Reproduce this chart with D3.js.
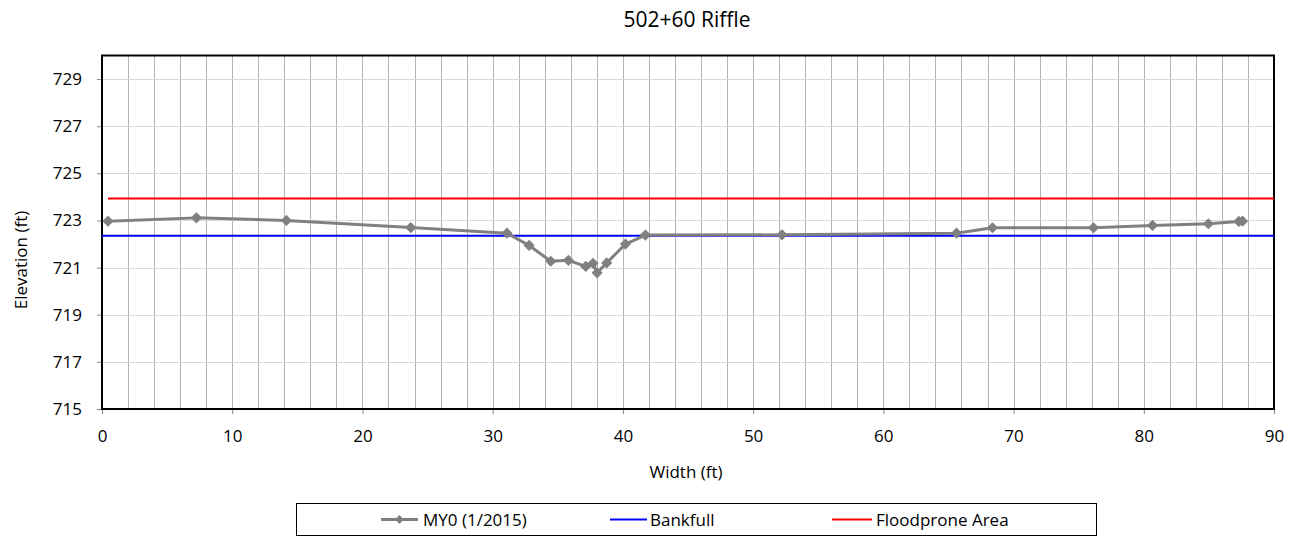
<!DOCTYPE html>
<html><head><meta charset="utf-8">
<script src="https://cdn.jsdelivr.net/npm/d3@7"></script>
<style>body{margin:0;background:#fff;} text{font-family:"Open Sans","Noto Sans",sans-serif;}</style>
</head><body>
<svg id="c" width="1289" height="539"></svg>
<script>
const title = "502+60 Riffle";
const xLabel = "Width (ft)";
const yLabel = "Elevation (ft)";
const stationX = [0.46,7.25,14.16,23.71,31.1,32.8,34.46,35.82,37.15,37.71,38.02,38.76,40.2,41.73,52.22,65.62,68.38,76.14,80.67,84.96,87.3,87.58];
const elevY = [722.97,723.11,723.0,722.7,722.46,721.94,721.27,721.31,721.05,721.18,720.78,721.2,722.0,722.38,722.39,722.46,722.69,722.69,722.79,722.86,722.96,722.97];
const bankfullX = [0, 90];
const bankfullY = [722.35, 722.35];
const floodX = [0.46, 90];
const floodY = [723.93, 723.93];
const xTicks = [0,10,20,30,40,50,60,70,80,90];
const yTicks = [715,717,719,721,723,725,727,729];
const seriesNames = ["MY0 (1/2015)","Bankfull","Floodprone Area"];

const svg = d3.select("#c");
const L=102, R=1274, T=55.5, B=409;
const x = d3.scaleLinear().domain([0,90]).range([L,R]);
const y = d3.scaleLinear().domain([715,730]).range([B,T]);

// gridlines
const vGrid = d3.range(2, 90, 2);
svg.append("g").selectAll("line").data(vGrid).join("line")
  .attr("x1",d=>Math.round(x(d))+0.5).attr("x2",d=>Math.round(x(d))+0.5)
  .attr("y1",T).attr("y2",B).attr("stroke","#b4b4b4").attr("stroke-width",1);
svg.append("g").selectAll("line").data(yTicks).join("line")
  .attr("x1",L).attr("x2",R)
  .attr("y1",d=>Math.round(y(d))+0.5).attr("y2",d=>Math.round(y(d))+0.5)
  .attr("stroke","#d9d9d9").attr("stroke-width",1);

// axes
const xAxis = svg.append("g").attr("transform",`translate(0,${B})`)
  .call(d3.axisBottom(x).tickValues(xTicks).tickSize(5).tickPadding(16).tickFormat(d3.format("d")));
xAxis.select(".domain").remove();
xAxis.selectAll("line").attr("stroke","#888");
xAxis.selectAll("text").attr("font-size",17).attr("fill","#000");
const yAxis = svg.append("g").attr("transform",`translate(${L},0)`)
  .call(d3.axisLeft(y).tickValues(yTicks).tickSize(5).tickPadding(15).tickFormat(d3.format("d")));
yAxis.select(".domain").remove();
yAxis.selectAll("line").attr("stroke","#888");
yAxis.selectAll("text").attr("font-size",17).attr("fill","#000");

// frame
svg.append("rect").attr("x",L).attr("y",T).attr("width",R-L).attr("height",B-T)
  .attr("fill","none").attr("stroke","#000").attr("stroke-width",2);

const line = d3.line().x(d=>x(d[0])).y(d=>y(d[1]));
svg.append("path").datum(d3.zip(floodX,floodY)).attr("d",line)
  .attr("stroke","#ff0000").attr("stroke-width",2).attr("fill","none");
svg.append("path").datum(d3.zip(bankfullX,bankfullY)).attr("d",line)
  .attr("stroke","#0000ff").attr("stroke-width",2).attr("fill","none");
const pts = d3.zip(stationX, elevY);
svg.append("path").datum(pts).attr("d",line)
  .attr("stroke","#808080").attr("stroke-width",3).attr("fill","none").attr("stroke-linejoin","round");
const diamond = d3.symbol().type(d3.symbolDiamond2).size(80);
svg.append("g").selectAll("path").data(pts).join("path")
  .attr("d",diamond).attr("transform",d=>`translate(${x(d[0])},${y(d[1])})`).attr("fill","#808080");

// titles
svg.append("text").attr("x",687).attr("y",27).attr("text-anchor","middle").attr("font-size",21).text(title);
svg.append("text").attr("x",686).attr("y",478).attr("text-anchor","middle").attr("font-size",17).text(xLabel);
svg.append("text").attr("transform","translate(27,260) rotate(-90)").attr("text-anchor","middle").attr("font-size",17).text(yLabel);

// legend
svg.append("rect").attr("x",296.5).attr("y",503.5).attr("width",800).attr("height",32)
  .attr("fill","#fff").attr("stroke","#000").attr("stroke-width",1);
const legX = [[381,418,423],[610,647,650],[832,872,876]];
const legC = ["#808080","#0000ff","#ff0000"];
const lg = svg.append("g");
seriesNames.forEach((n,i)=>{
  lg.append("line").attr("x1",legX[i][0]).attr("x2",legX[i][1]).attr("y1",519.5).attr("y2",519.5)
    .attr("stroke",legC[i]).attr("stroke-width",i===0?3:2);
  if(i===0) lg.append("path").attr("d",d3.symbol().type(d3.symbolDiamond2).size(50)())
    .attr("transform",`translate(${(legX[i][0]+legX[i][1])/2},519.5)`).attr("fill","#808080");
  lg.append("text").attr("x",legX[i][2]).attr("y",525.5).attr("font-size",17).text(n);
});
</script>
</body></html>
